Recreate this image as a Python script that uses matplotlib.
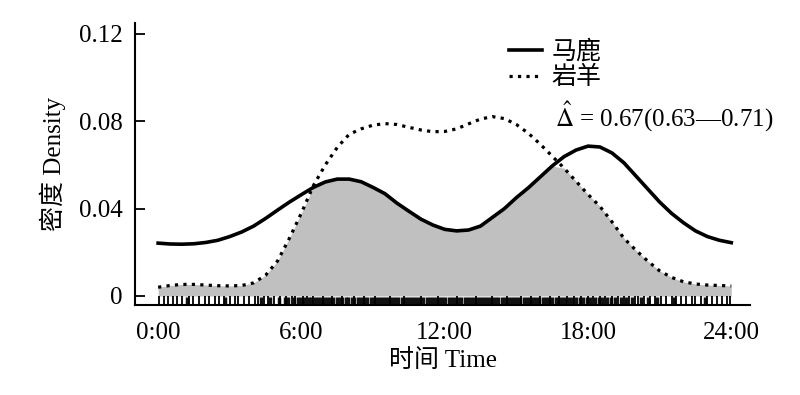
import matplotlib.pyplot as plt
import numpy as np

# density curves, every half hour
hours = np.arange(0, 24.5, 0.5)
deer = [0.0242, 0.0238, 0.0237, 0.0239, 0.0245, 0.0255, 0.0272, 0.0293, 0.0320, 0.0355,
        0.0393, 0.0430, 0.0464, 0.0497, 0.0522, 0.0535, 0.0535, 0.0523, 0.0497, 0.0468,
        0.0425, 0.0388, 0.0352, 0.0325, 0.0305, 0.0298, 0.0302, 0.0320, 0.0360, 0.0400,
        0.0450, 0.0495, 0.0545, 0.0595, 0.0638, 0.0668, 0.0686, 0.0682, 0.0655, 0.0610,
        0.0550, 0.0490, 0.0430, 0.0378, 0.0335, 0.0298, 0.0272, 0.0255, 0.0244]
goat = [0.0040, 0.0048, 0.0053, 0.0053, 0.0050, 0.0047, 0.0046, 0.0048, 0.0060, 0.0095,
        0.0160, 0.0265, 0.0380, 0.0505, 0.0600, 0.0680, 0.0740, 0.0765, 0.0782, 0.0789,
        0.0785, 0.0772, 0.0760, 0.0752, 0.0753, 0.0765, 0.0788, 0.0810, 0.0821, 0.0812,
        0.0785, 0.0745, 0.0695, 0.0640, 0.0585, 0.0525, 0.0465, 0.0410, 0.0340, 0.0265,
        0.0210, 0.0160, 0.0115, 0.0085, 0.0065, 0.0055, 0.0050, 0.0048, 0.0046]

# observation times for the rug
goat_times = [1.2, 2.8, 4.3, 4.7, 5.05, 5.3, 5.45, 5.7, 5.85,
              6.0, 6.12, 6.3, 6.41, 6.55, 6.7, 6.82, 6.95,
              7.08, 7.2, 7.33, 7.47, 7.6, 7.71, 7.86, 7.97,
              8.1, 8.22, 8.37, 8.5, 8.63, 8.75, 8.9,
              9.02, 9.15, 9.3, 9.42, 9.55, 9.68, 9.8, 9.93,
              10.05, 10.2, 10.33, 10.46, 10.6, 10.72, 10.85, 10.97,
              11.1, 11.25, 11.38, 11.5, 11.64, 11.77, 11.9,
              12.03, 12.16, 12.3, 12.42, 12.57, 12.7, 12.83, 12.96,
              13.08, 13.22, 13.35, 13.48, 13.6, 13.74, 13.87, 13.99,
              14.12, 14.25, 14.4, 14.52, 14.65, 14.78, 14.9,
              15.03, 15.17, 15.3, 15.44, 15.57, 15.7, 15.84, 15.96,
              16.1, 16.23, 16.36, 16.5, 16.64, 16.78, 16.92,
              17.05, 17.2, 17.34, 17.5, 17.66, 17.8, 17.95,
              18.1, 18.28, 18.45, 18.6, 18.8, 18.95,
              19.15, 19.4, 19.6, 19.85, 20.2, 20.5, 20.9, 21.6, 22.9]
deer_times = [0.05, 0.25, 0.4, 0.62, 0.8, 1.0, 1.3, 1.45, 1.7, 1.95, 2.15, 2.4, 2.55,
              2.75, 3.0, 3.2, 3.35, 3.6, 3.8, 4.05, 4.2, 4.45, 4.6, 4.85, 5.1, 5.35,
              5.6, 5.75, 6.05, 6.25, 6.5, 6.9, 7.3, 7.7, 8.2, 8.6, 9.1, 9.7, 10.3,
              11.0, 11.7, 12.5, 13.3, 14.0, 14.6, 15.2, 15.6, 16.0, 16.4, 16.8, 17.1,
              17.4, 17.7, 18.0, 18.2, 18.5, 18.7, 19.0, 19.25, 19.5, 19.7, 19.95, 20.1,
              20.35, 20.6, 20.8, 21.05, 21.25, 21.5, 21.7, 21.9, 22.1, 22.35, 22.5,
              22.75, 23.0, 23.2, 23.4, 23.6, 23.8, 23.95]

xticks = [0, 6, 12, 18, 24]
xlabels = ['0:00', '6:00', '12:00', '18:00', '24:00']
yticks = [0, 0.04, 0.08, 0.12]
ylabels = ['0', '0.04', '0.08', '0.12']

fonts = ['Liberation Serif', 'Noto Sans CJK SC', 'DejaVu Sans']
plt.rcParams['font.family'] = fonts
plt.rcParams['mathtext.fontset'] = 'stix'

fig = plt.figure(figsize=(8, 3.95), dpi=100)
ax = fig.add_axes([0.169, 0.228, 0.769, 0.714])

ax.fill_between(hours, 0, np.minimum(deer, goat), color='#c0c0c0', lw=0)
ax.plot(hours, deer, color='black', lw=2.6, label='马鹿')
ax.plot(hours, goat, color='black', lw=2.3, ls=':', label='岩羊')
ax.vlines(goat_times, -0.0041, -0.0006, color='#111111', lw=2.5)
ax.vlines(deer_times, -0.0041, 0.0, color='black', lw=1.3)

ax.set_xlim(-0.96, 24.8)
ax.set_ylim(-0.0041, 0.125)
ax.set_xticks(xticks, labels=xlabels)
ax.set_yticks(yticks, labels=ylabels)
ax.tick_params(axis='x', length=0, pad=12, labelsize=18)
ax.tick_params(axis='y', direction='in', length=7, width=1.3, pad=9, labelsize=18)

for s in ['top', 'right']:
    ax.spines[s].set_visible(False)
for s in ['left', 'bottom']:
    ax.spines[s].set_linewidth(1.5)

ax.set_xlabel('时间 Time', fontsize=18, labelpad=4)
ax.set_ylabel('密度 Density', fontsize=18, labelpad=9)

ax.legend(loc='upper left', bbox_to_anchor=(0.608, 0.94), frameon=False, fontsize=18,
          handlelength=1.3, handletextpad=0.4, labelspacing=0.1, borderpad=0,
          borderaxespad=0)
ax.text(0.683, 0.667, r'$\hat{\Delta}$ = 0.67(0.63—0.71)', transform=ax.transAxes,
        fontsize=18, va='center', ha='left')

fig.savefig('out.png', dpi=100)
